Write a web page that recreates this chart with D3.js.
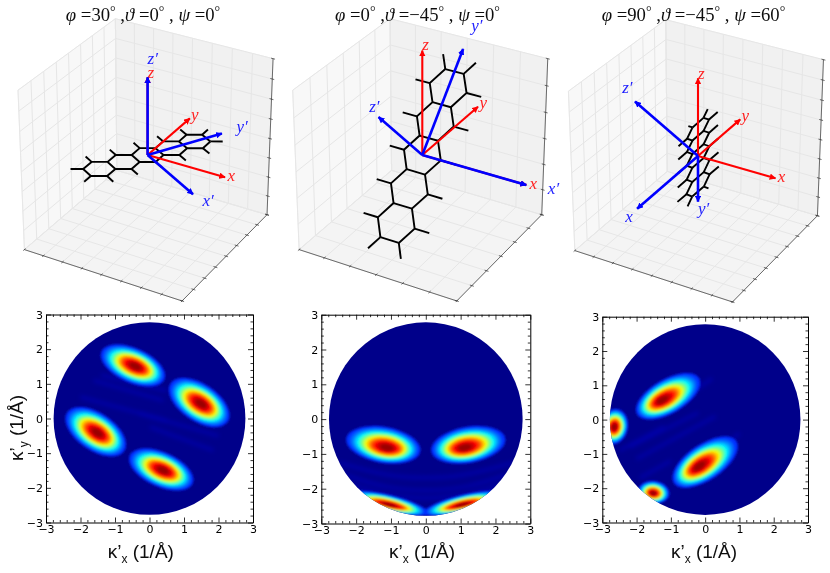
<!DOCTYPE html>
<html>
<head>
	<title></title>
	<style>
		html,body{margin:0;padding:0;background:#fff;}
		svg{display:block;}
	</style>
</head>
<body>
	<script src="https://d3js.org/d3.v7.min.js"></script>
	<script>
		// euler angles of the three views, degrees
		var phis = [30, 0, 90];
		var thetas = [0, -45, -45];
		var psis = [0, 0, 60];
		var titles = ["φ =30° ,ϑ =0° , ψ =0°", "φ =0° ,ϑ =−45° , ψ =0°", "φ =90° ,ϑ =−45° , ψ =60°"];
		var blueNames = [["x′","y′","z′"], ["x′","y′","z′"], ["x","y′","z′"]];
		var redNames = ["x","y","z"];
		// half range of the 3d box per view
		var limits = [8, 6, 8];
		var boxTicks = [[-8,-6,-4,-2,0,2,4,6,8], [-6,-4,-2,0,2,4,6], [-8,-6,-4,-2,0,2,4,6,8]];
		var axisLength = 7.7;

		// pentacene, [short axis, long axis] in angstrom
		var chainUpper = [[0.7,-6.05],[1.4,-4.84],[0.7,-3.63],[1.4,-2.42],[0.7,-1.21],[1.4,0],[0.7,1.21],[1.4,2.42],[0.7,3.63],[1.4,4.84],[0.7,6.05]];
		var chainLower = [[-0.7,-6.05],[-1.4,-4.84],[-0.7,-3.63],[-1.4,-2.42],[-0.7,-1.21],[-1.4,0],[-0.7,1.21],[-1.4,2.42],[-0.7,3.63],[-1.4,4.84],[-0.7,6.05]];
		var rungs = [-6.05,-3.63,-1.21,1.21,3.63,6.05];
		var hydrogens = [
			[[0.7,-6.05],[1.25,-7.0]],[[-0.7,-6.05],[-1.25,-7.0]],
			[[0.7,6.05],[1.25,7.0]],[[-0.7,6.05],[-1.25,7.0]],
			[[1.4,-4.84],[2.5,-4.84]],[[-1.4,-4.84],[-2.5,-4.84]],
			[[1.4,-2.42],[2.5,-2.42]],[[-1.4,-2.42],[-2.5,-2.42]],
			[[1.4,0],[2.5,0]],[[-1.4,0],[-2.5,0]],
			[[1.4,2.42],[2.5,2.42]],[[-1.4,2.42],[-2.5,2.42]],
			[[1.4,4.84],[2.5,4.84]],[[-1.4,4.84],[-2.5,4.84]]
		];

		// k-map ticks
		var kTicks = [-3,-2,-1,0,1,2,3];
		var kMinor = [-2.8,-2.6,-2.4,-2.2,-1.8,-1.6,-1.4,-1.2,-0.8,-0.6,-0.4,-0.2,0.2,0.4,0.6,0.8,1.2,1.4,1.6,1.8,2.2,2.4,2.6,2.8];
		var kRadius = 2.78;

		// lobes: core x, core y, halo x, halo y, halo rx, halo ry, angle
		var lobesA = [
			[-0.4,1.5,-0.48,1.53,1.0,0.5,-24],
			[1.5,0.42,1.44,0.46,1.0,0.54,-34],
			[-1.5,-0.42,-1.56,-0.38,1.0,0.54,-34],
			[0.4,-1.5,0.34,-1.47,1.0,0.5,-24]
		];
		var lobesB = [
			[-1.1,-0.83,-1.22,-0.74,1.08,0.52,-10],
			[1.1,-0.83,1.22,-0.74,1.08,0.52,10],
			[-1.05,-2.47,-1.05,-2.42,1.14,0.24,-14],
			[1.05,-2.47,1.05,-2.42,1.14,0.24,14]
		];
		var lobesC = [
			[-1.28,0.55,-1.08,0.68,1.05,0.5,30],
			[-0.2,-1.38,0.0,-1.24,1.1,0.52,34],
			[-2.65,-0.22,-2.65,-0.2,0.52,0.4,80],
			[-1.52,-2.15,-1.5,-2.12,0.46,0.33,-8]
		];
		// faint interference stripes
		var fringesA = [
			[[-2.0,0.62],[0.5,-0.06]],[[-1.62,1.1],[0.4,0.52]],
			[[0.02,-0.25],[1.85,-0.92]],[[-0.3,0.15],[2.0,-0.5]],
			[[-1.4,1.25],[0.5,0.8]]
		];
		var fringesB = [
			[[-2.5,-1.25],[-1.2,-1.62],[0,-1.72],[1.2,-1.62],[2.5,-1.25]],
			[[-2.3,-1.6],[-1.2,-1.98],[0,-2.08],[1.2,-1.98],[2.3,-1.6]],
			[[-2.1,-1.9],[-1.1,-2.2],[0,-2.3],[1.1,-2.2],[2.1,-1.9]]
		];
		var fringesC = [
			[[-2.2,-0.8],[-0.2,0.2]],[[-2.0,-1.15],[0.3,0.1]],
			[[-1.9,-1.7],[-1.0,-1.2]],[[-2.5,-0.9],[-1.2,-0.2]],
			[[0.2,-1.0],[1.0,-0.4]],[[-0.6,0.65],[0.2,1.2]]
		];
		var jetColors = ["#00007f","#0000ff","#007fff","#00ffff","#7fff7f","#ffff00","#ff7f00","#ff0000","#7f0000"];
		var levels = [0.08,0.14,0.2,0.26,0.32,0.38,0.44,0.5,0.56,0.62,0.68,0.74,0.8,0.86,0.92,0.97];

		// pixel layout
		var boxes = [{cx:147.6,cy:155},{cx:422.3,cy:155},{cx:698,cy:156}];
		var boxScale = 182;
		var titleX = [143,417.5,693.5];
		var maps = [
			{left:46,right:253,top:314.5,bottom:522.5,labelX:140.8,lobes:lobesA,fringes:fringesA},
			{left:321.3,right:530.3,top:314.7,bottom:523.5,labelX:422,lobes:lobesB,fringes:fringesB},
			{left:602.3,right:808,top:316.7,bottom:522.5,labelX:704,lobes:lobesC,fringes:fringesC}
		];
		var width = 830, height = 573;

		var svg = d3.select("body").append("svg").attr("width",width).attr("height",height);
		var defs = svg.append("defs");
		defs.append("filter").attr("id","soft").attr("x","-5%").attr("y","-5%").attr("width","110%").attr("height","110%")
			.append("feGaussianBlur").attr("stdDeviation",0.35);
		defs.append("filter").attr("id","heat").attr("x","-30%").attr("y","-30%").attr("width","160%").attr("height","160%")
			.append("feGaussianBlur").attr("stdDeviation",1.1);
		defs.append("filter").attr("id","fringe").attr("filterUnits","userSpaceOnUse").attr("x",0).attr("y",0).attr("width",width).attr("height",height)
			.append("feGaussianBlur").attr("stdDeviation",2);
		[["red","#ff0000"],["blue","#0000ff"]].forEach(function(m){
			defs.append("marker").attr("id","head-"+m[0]).attr("viewBox","0 0 10 10")
				.attr("refX",9).attr("refY",5).attr("markerUnits","userSpaceOnUse")
				.attr("markerWidth",6.5).attr("markerHeight",6.5).attr("orient","auto")
				.append("path").attr("d","M0,0L10,5L0,10z").attr("fill",m[1]);
		});

		var root = svg.append("g").attr("filter","url(#soft)");

		var jet = d3.scaleLinear().domain(jetColors.map((d,i)=>i/(jetColors.length-1))).range(jetColors);

		// same camera as mplot3d: elev 30, azim -60, dist 10
		var elev = 30*Math.PI/180, azim = -60*Math.PI/180, dist = 10;
		var eye = [Math.cos(elev)*Math.cos(azim),Math.cos(elev)*Math.sin(azim),Math.sin(elev)];
		var right = [-Math.sin(azim),Math.cos(azim),0];
		var up = [-Math.sin(elev)*Math.cos(azim),-Math.sin(elev)*Math.sin(azim),Math.cos(elev)];
		function dot(a,b){return a[0]*b[0]+a[1]*b[1]+a[2]*b[2];}

		function rotate(v,phi,theta,psi){
			var r = Math.PI/180;
			var a = -phi*r, b = -theta*r, c = -psi*r;
			// about z, about x, about z again
			var x1 = v[0]*Math.cos(a)-v[1]*Math.sin(a), y1 = v[0]*Math.sin(a)+v[1]*Math.cos(a), z1 = v[2];
			var y2 = y1*Math.cos(b)-z1*Math.sin(b), z2 = y1*Math.sin(b)+z1*Math.cos(b);
			return [x1*Math.cos(c)-y2*Math.sin(c), x1*Math.sin(c)+y2*Math.cos(c), z2];
		}

		boxes.forEach(function(box,i){
			var lim = limits[i];
			var cube = d3.scaleLinear().domain([-lim,lim]).range([0,1]);
			var sx = d3.scaleLinear().domain([0,1]).range([box.cx,box.cx+boxScale]);
			var sy = d3.scaleLinear().domain([0,1]).range([box.cy,box.cy-boxScale]);
			function proj(p){
				var q = [p[0]-0.5,p[1]-0.5,p[2]-0.5];
				var f = dist/(dist-dot(q,eye));
				return [sx(dot(q,right)*f),sy(dot(q,up)*f)];
			}
			// data coordinates to pixels
			function pt(p){return proj([cube(p[0]),cube(p[1]),cube(p[2])]);}
			var line = d3.line();
			var g = root.append("g");

			// panes
			var panes = [
				{c:[[0,0,0],[0,1,0],[0,1,1],[0,0,1]],f:"#f8f8f8"},
				{c:[[0,1,0],[1,1,0],[1,1,1],[0,1,1]],f:"#f1f1f1"},
				{c:[[0,0,0],[1,0,0],[1,1,0],[0,1,0]],f:"#f4f4f4"}
			];
			g.selectAll("path.pane").data(panes).join("path").attr("class","pane")
				.attr("d",d=>line(d.c.map(proj))+"Z").attr("fill",d=>d.f).attr("stroke","#f0f0f0").attr("stroke-width",1);

			// grid
			var ticks = boxTicks[i];
			var grid = g.append("g").attr("fill","none").attr("stroke","#e6e6e6").attr("stroke-width",1);
			ticks.forEach(function(t){
				var u = cube(t);
				grid.append("path").attr("d",line([[u,0,0],[u,1,0],[u,1,1]].map(proj)));
				grid.append("path").attr("d",line([[1,u,0],[0,u,0],[0,u,1]].map(proj)));
				grid.append("path").attr("d",line([[0,0,u],[0,1,u],[1,1,u]].map(proj)));
			});

			// box axes and tick marks
			var edge = g.append("g").attr("fill","none").attr("stroke","#333").attr("stroke-width",0.7);
			edge.append("path").attr("d",line([[0,0,0],[1,0,0],[1,1,0],[1,1,1]].map(proj)));
			ticks.forEach(function(t){
				var u = cube(t);
				edge.append("path").attr("d",line([[u,-0.012,0],[u,0.012,0]].map(proj)));
				edge.append("path").attr("d",line([[1.012,u,0],[0.988,u,0]].map(proj)));
				edge.append("path").attr("d",line([[1.012,1,u],[0.988,1,u]].map(proj)));
			});

			// molecule
			function place(a){return pt(rotate([a[0],a[1],0],phis[i],thetas[i],psis[i]));}
			var mol = g.append("g").attr("fill","none").attr("stroke","#000").attr("stroke-width",1.9);
			mol.append("path").attr("d",line(chainUpper.map(place)));
			mol.append("path").attr("d",line(chainLower.map(place)));
			rungs.forEach(function(v){
				mol.append("path").attr("d",line([[0.7,v],[-0.7,v]].map(place)));
			});
			hydrogens.forEach(function(h){
				mol.append("path").attr("d",line(h.map(place)));
			});

			// lab axes in red, rotated axes in blue
			var units = [[1,0,0],[0,1,0],[0,0,1]];
			function arrow(vec,color,name,stretch,thick){
				var end = vec.map(d=>d*axisLength);
				g.append("path").attr("d",line([[0,0,0],end].map(pt)))
					.attr("stroke",color==="red"?"#ff0000":"#0000ff").attr("stroke-width",thick).attr("fill","none")
					.attr("marker-end","url(#head-"+color+")");
				var tip = pt(vec.map(d=>d*axisLength*stretch));
				g.append("text").attr("x",tip[0]).attr("y",tip[1]+3)
					.attr("font-family","'Liberation Serif'").attr("font-style","italic").attr("font-size",17)
					.attr("fill",color==="red"?"#ff2020":"#2020ff").text(name);
			}
			units.forEach(function(v,k){arrow(v,"red",redNames[k],1.03,2.1);});
			units.forEach(function(v,k){arrow(rotate(v,phis[i],thetas[i],psis[i]),"blue",blueNames[i][k],1.2,2.6);});
		});

		// titles, degree signs raised
		titles.forEach(function(t,i){
			var txt = root.append("text").attr("x",titleX[i]).attr("y",21).attr("text-anchor","middle")
				.attr("font-family","'Liberation Serif'").attr("font-size",18.7).attr("fill","#111");
			var lift = 0;
			t.split(/(°)/).forEach(function(part){
				if(part==="°"){
					txt.append("tspan").attr("dy",-5).attr("font-size",14).text("°");
					lift = 5;
				} else if(part){
					var sp = txt.append("tspan").attr("dy",lift).text("");
					lift = 0;
					part.split(/([φϑψ])/).forEach(function(s){
						if(!s) return;
						sp.append("tspan").attr("font-style",/[φϑψ]/.test(s)?"italic":"normal").text(s);
					});
				}
			});
		});

		// k-space maps
		maps.forEach(function(m,i){
			var x = d3.scaleLinear().domain([-3,3]).range([m.left,m.right]);
			var y = d3.scaleLinear().domain([-3,3]).range([m.bottom,m.top]);
			var g = root.append("g");
			var clip = "disc"+i;
			defs.append("clipPath").attr("id",clip).append("ellipse")
				.attr("cx",x(0)).attr("cy",y(0))
				.attr("rx",x(kRadius)-x(0)).attr("ry",y(0)-y(kRadius));
			var field = g.append("g").attr("clip-path","url(#"+clip+")");
			field.append("rect").attr("x",m.left).attr("y",m.top).attr("width",m.right-m.left).attr("height",m.bottom-m.top)
				.attr("fill","#00008a");
			var fline = d3.line().x(d=>x(d[0])).y(d=>y(d[1])).curve(d3.curveBasis);
			field.append("g").attr("filter","url(#fringe)").selectAll("path").data(m.fringes).join("path")
				.attr("d",fline).attr("fill","none").attr("stroke","#0000b4").attr("stroke-width",3.5).attr("opacity",0.7);

			var kx = x(1)-x(0), ky = y(0)-y(1);
			m.lobes.forEach(function(l){
				var lg = field.append("g").attr("filter","url(#heat)");
				levels.forEach(function(t){
					// contour of a flat topped bump, pulled from halo centre to core
					var s = Math.pow(Math.log(t)/Math.log(levels[0]),0.4);
					var cx = l[0]+(l[2]-l[0])*s, cy = l[1]+(l[3]-l[1])*s;
					lg.append("ellipse")
						.attr("rx",l[4]*s*kx).attr("ry",l[5]*s*ky)
						.attr("transform","translate("+x(cx)+","+y(cy)+") rotate("+(-l[6])+")")
						.attr("fill",jet(0.1+t*0.9));
				});
			});

			// frame with inward ticks on all sides
			function style(a){
				a.selectAll("text").attr("font-family","'DejaVu Sans'").attr("font-size",11).attr("fill","#000");
				a.selectAll("line").attr("stroke","#000").attr("stroke-width",0.8);
				a.select(".domain").attr("stroke","#000").attr("stroke-width",1);
			}
			function addAxis(axis,tx,ty,labels,minor){
				var a = g.append("g").attr("transform","translate("+tx+","+ty+")")
					.call(axis.tickValues(minor?kMinor:kTicks).tickSizeInner(minor?-2.5:-5).tickSizeOuter(0).tickPadding(3)
						.tickFormat(minor||!labels?"":d3.format("d")));
				style(a);
				if(minor) a.select(".domain").remove();
			}
			[false,true].forEach(function(minor){
				addAxis(d3.axisBottom(x),0,m.bottom,true,minor);
				addAxis(d3.axisLeft(y),m.left,0,true,minor);
				// top and right mirror the ticks pointing in
				addAxis(d3.axisTop(x),0,m.top,false,minor);
				addAxis(d3.axisRight(y),m.right,0,false,minor);
			});

			// x label
			var lab = g.append("text").attr("x",m.labelX).attr("y",558).attr("text-anchor","middle")
				.attr("font-family","'Liberation Sans'").attr("font-size",19).attr("fill","#111");
			lab.append("tspan").text("κ’");
			lab.append("tspan").attr("font-size",12).attr("dy",5).text("x");
			lab.append("tspan").attr("dy",-5).text(" (1/Å)");
			if(i===0){
				var ylab = g.append("text").attr("transform","translate(23,428) rotate(-90)").attr("text-anchor","middle")
					.attr("font-family","'Liberation Sans'").attr("font-size",19).attr("fill","#111");
				ylab.append("tspan").text("κ’");
				ylab.append("tspan").attr("font-size",12).attr("dy",5).text("y");
				ylab.append("tspan").attr("dy",-5).text(" (1/Å)");
			}
		});
	</script>
</body>
</html>
